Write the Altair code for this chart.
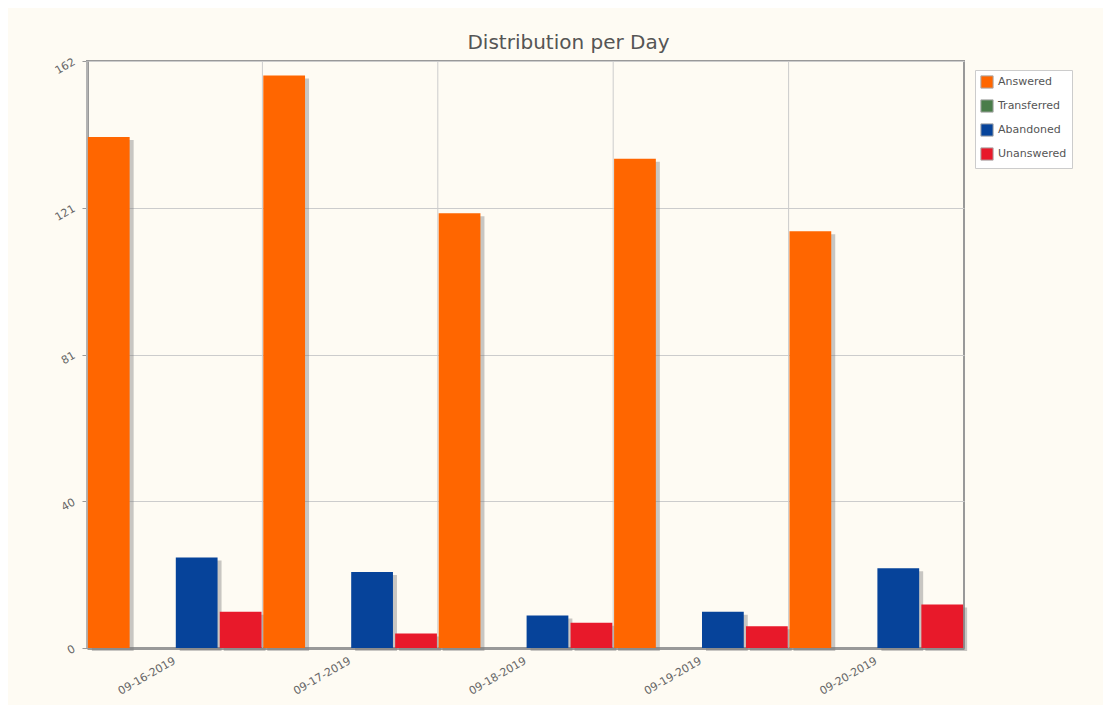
import altair as alt
import pandas as pd

dates = ["09-16-2019", "09-17-2019", "09-18-2019", "09-19-2019", "09-20-2019"]
series = ["Answered", "Transferred", "Abandoned", "Unanswered"]
answered = [141, 158, 120, 135, 115]
transferred = [0, 0, 0, 0, 0]
abandoned = [25, 21, 9, 10, 22]
unanswered = [10, 4, 7, 6, 12]
colors = ["#FF6600", "#4A7D4A", "#06439A", "#E8192A"]
y_ticks = [0, 40.5, 81, 121.5, 162]

rows = []
for s, vals in zip(series, [answered, transferred, abandoned, unanswered]):
    for d, v in zip(dates, vals):
        rows.append({"date": d, "series": s, "value": v})
df = pd.DataFrame(rows)
grid_df = pd.DataFrame({"date": dates})

BG = "#FEFBF3"
W = 877
H = 587
band = W / len(dates)

x_scale = alt.Scale(domain=dates, paddingInner=0, paddingOuter=0)
y_scale = alt.Scale(domain=[0, 162], nice=False)

x_axis = alt.Axis(
    labelAngle=330,
    labelAlign="right",
    labelBaseline="middle",
    labelFontSize=11,
    labelColor="#666666",
    labelFont="DejaVu Sans",
    labelPadding=12,
    ticks=False,
    grid=False,
    domainColor="#999999",
    domainWidth=3,
    labelOffset=0,
)
y_axis = alt.Axis(
    values=y_ticks,
    labelExpr="floor(datum.value)",
    labelAngle=330,
    labelFontSize=11,
    labelColor="#666666",
    labelFont="DejaVu Sans",
    labelPadding=8,
    tickColor="#999999",
    tickSize=5,
    grid=True,
    gridColor="#CCCCCC",
    domainColor="#999999",
    domainWidth=3,
)

color_enc = alt.Color(
    "series:N",
    sort=series,
    scale=alt.Scale(domain=series, range=colors),
    legend=alt.Legend(
        title=None,
        orient="none",
        legendX=888,
        legendY=9,
        fillColor="#FFFFFF",
        strokeColor="#CCCCCC",
        padding=5,
        symbolType="square",
        symbolSize=150,
        symbolStrokeColor="#AAAAAA",
        symbolStrokeWidth=1,
        labelFontSize=11,
        labelColor="#555555",
        labelFont="DejaVu Sans",
        rowPadding=6,
    ),
)

grid = alt.Chart(grid_df).mark_rule(color="#CCCCCC", strokeWidth=1).encode(
    x=alt.X("date:N", bandPosition=0, scale=x_scale, title=None, axis=x_axis),
)

shadow = alt.Chart(df).transform_filter("datum.value > 0").mark_bar(
    color="#777777", opacity=0.4, yOffset=3
).encode(
    x=alt.X("date:N", scale=x_scale, title=None, axis=x_axis),
    xOffset=alt.XOffset(
        "series:N",
        sort=series,
        scale=alt.Scale(domain=series, range=[4, band + 4], paddingInner=0.05, paddingOuter=0.02),
    ),
    y=alt.Y("value:Q", scale=y_scale, title=None, axis=y_axis),
)

bars = alt.Chart(df).mark_bar().encode(
    x=alt.X("date:N", scale=x_scale, title=None, axis=x_axis),
    xOffset=alt.XOffset(
        "series:N",
        sort=series,
        scale=alt.Scale(domain=series, range=[0, band], paddingInner=0.05, paddingOuter=0.02),
    ),
    y=alt.Y("value:Q", scale=y_scale, title=None, axis=y_axis),
    color=color_enc,
)

chart = alt.layer(grid, shadow, bars).resolve_scale(xOffset="independent").properties(
    width=W,
    height=H,
    background=BG,
    padding={"left": 44, "top": 24, "right": 30, "bottom": 13},
    title=alt.TitleParams(
        "Distribution per Day",
        fontSize=20,
        font="DejaVu Sans",
        fontWeight="normal",
        color="#555555",
        offset=3,
        dx=43,
    ),
).configure_view(
    stroke="#999999", strokeWidth=2, fill=BG
)

chart.save("out.html", embed_options={"renderer": "svg", "actions": False})
